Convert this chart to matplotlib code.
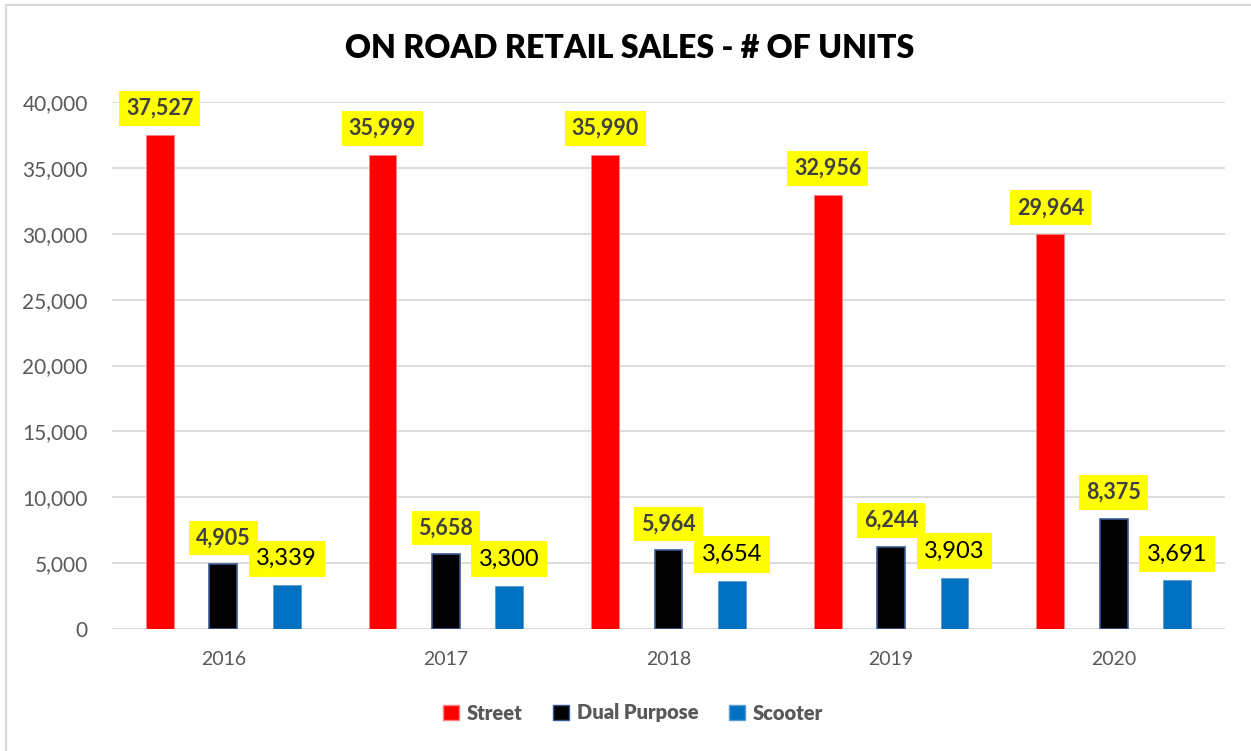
import matplotlib
matplotlib.use("Agg")
import matplotlib.pyplot as plt
from matplotlib.lines import Line2D
from matplotlib.patches import Patch
import numpy as np

plt.rcParams['font.family'] = ['Lato', 'DejaVu Sans']

years = ["2016", "2017", "2018", "2019", "2020"]
street = [37527, 35999, 35990, 32956, 29964]
dual_purpose = [4905, 5658, 5964, 6244, 8375]
scooter = [3339, 3300, 3654, 3903, 3691]
series_names = ["Street", "Dual Purpose", "Scooter"]
yticks = [0, 5000, 10000, 15000, 20000, 25000, 30000, 35000, 40000]

W, H = 1251, 751
fig = plt.figure(figsize=(W / 100, H / 100), dpi=100)
ax = fig.add_axes([112 / W, 1 - 629 / H, (1225 - 112) / W, (629 - 102) / H])

x = np.arange(len(years))
bw = 0.125
off = 0.285
gray = "#595959"

b1 = ax.bar(x - off, street, bw, color="#ff0000", edgecolor="#ff8080", linewidth=0.6, zorder=3)
b2 = ax.bar(x, dual_purpose, bw, color="#000000", edgecolor="#3a5a96", linewidth=1.2, zorder=3)
b3 = ax.bar(x + off, scooter, bw, color="#0070c0", edgecolor="#5b9bd5", linewidth=0.6, zorder=3)

box = dict(boxstyle="square,pad=0.32", facecolor="#ffff00", edgecolor="none")
for xs, vals, bold, size, col in [(x - off, street, True, 15.5, "#404040"),
                                  (x, dual_purpose, True, 15.5, "#404040"),
                                  (x + off, scooter, False, 17, "#000000")]:
    for xi, v in zip(xs, vals):
        ax.annotate(f"{v:,}", (xi, v), xytext=(0, 19), textcoords="offset points",
                    ha="center", va="center", fontsize=size,
                    fontweight="bold" if bold else "normal", color=col,
                    bbox=box, zorder=5)

ax.set_xlim(-0.5, 4.5)
ax.set_ylim(0, 40000)
ax.set_yticks(yticks)
ax.set_yticklabels([f"{t:,}" for t in yticks], fontsize=15, color=gray)
ax.set_xticks(x)
ax.set_xticklabels(years, fontsize=14, color=gray)
ax.tick_params(axis="both", length=0)
ax.tick_params(axis="y", pad=17.5)
ax.tick_params(axis="x", pad=15.5)
ax.grid(axis="y", color="#d9d9d9", linewidth=1.3, zorder=0)
for s in ax.spines.values():
    s.set_visible(False)

fig.text(630 / W, 1 - 48 / H, "ON ROAD RETAIL SALES - # OF UNITS", ha="center", va="center",
         fontsize=23, fontweight="heavy", color="#000000")

handles = [Patch(facecolor="#ff0000", edgecolor="#ff8080"),
           Patch(facecolor="#000000", edgecolor="#3a5a96"),
           Patch(facecolor="#0070c0", edgecolor="#5b9bd5")]
leg = fig.legend(handles, series_names, loc="center", bbox_to_anchor=(633 / W, 1 - 713 / H),
                 ncol=3, frameon=False, handlelength=0.8, handleheight=0.8,
                 handletextpad=0.4, columnspacing=1.5,
                 prop={"size": 14.5, "weight": "heavy"})
for t in leg.get_texts():
    t.set_color(gray)

# outer frame
fig.add_artist(Line2D([6 / W, 6 / W], [0, 1 - 5 / H], color="#d9d9d9", linewidth=1.5))
fig.add_artist(Line2D([6 / W, 1], [1 - 5 / H, 1 - 5 / H], color="#d9d9d9", linewidth=1.5))

fig.savefig("out.png", dpi=100)
